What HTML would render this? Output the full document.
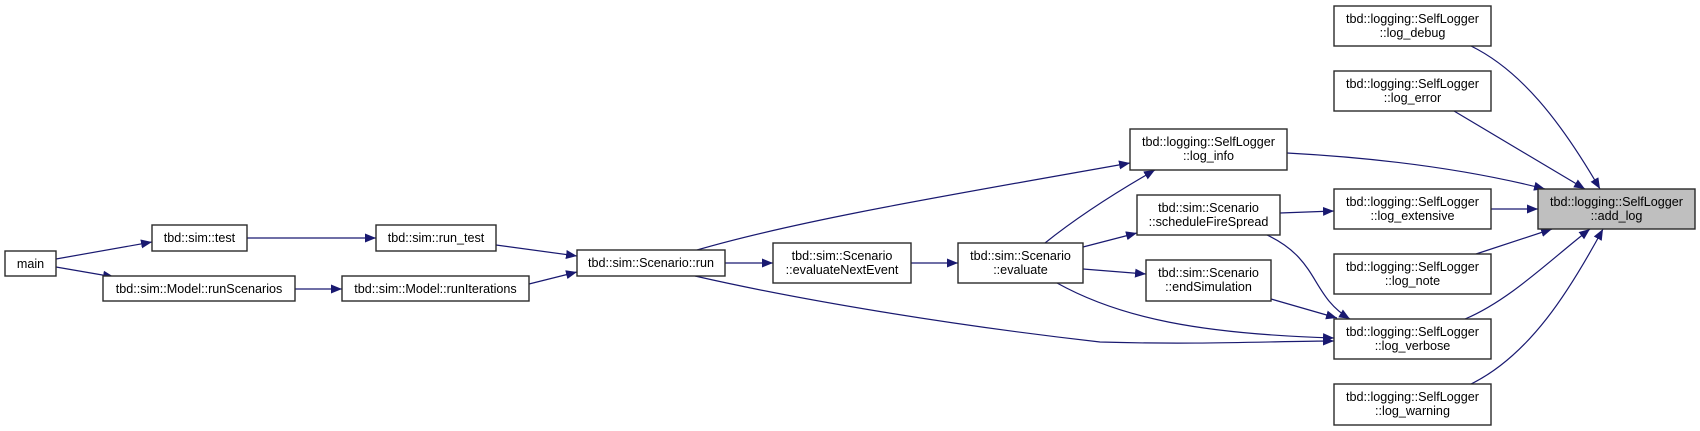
<!DOCTYPE html>
<html><head><meta charset="utf-8"><style>
html,body{margin:0;padding:0;background:#fff;}
svg{display:block;}
text{font-family:"Liberation Sans",Arial,sans-serif;font-size:12.6px;fill:#000;}
</style></head><body>
<svg width="1700" height="431" viewBox="0 0 1700 431" xmlns="http://www.w3.org/2000/svg">
<defs>
<marker id="a" markerUnits="userSpaceOnUse" markerWidth="12" markerHeight="10" refX="11" refY="5" orient="auto">
<polygon points="0,0.5 11,5 0,9.5" fill="#191970"/>
</marker>
</defs>
<g fill="none" stroke="#191970" stroke-width="1.2" marker-end="url(#a)">
<path d="M56,259 L152,242"/>
<path d="M56,267 L114,277"/>
<path d="M247,238 L376,238"/>
<path d="M295,289 L342,289"/>
<path d="M496,245 L577,256"/>
<path d="M529,284 L577,272"/>
<path d="M725,263 L773,263"/>
<path d="M911,263 L958,263"/>
<path d="M697,250 C800,220 950,195 1130,163"/>
<path d="M695,276 C800,300 950,325 1100,342 C1200,345 1280,341 1334,341"/>
<path d="M1045,243 C1080,215 1120,190 1155,170"/>
<path d="M1083,247 L1137,233"/>
<path d="M1083,269 L1146,274"/>
<path d="M1057,283 C1120,318 1200,334 1334,338"/>
<path d="M1280,213 L1334,211"/>
<path d="M1267,235 C1320,260 1310,295 1350,319"/>
<path d="M1271,299 L1337,318"/>
<path d="M1287,153 C1380,158 1470,170 1545,189"/>
<path d="M1471,46 C1520,70 1560,120 1600,189"/>
<path d="M1454,111 L1585,189"/>
<path d="M1491,209 L1538,209"/>
<path d="M1476,254 L1552,229"/>
<path d="M1465,319 C1510,300 1550,260 1590,229"/>
<path d="M1471,384 C1530,355 1570,290 1603,229"/>
</g>
<g stroke="#2a2a2a" stroke-width="1.4" fill="#fff">
<rect x="5" y="251" width="51" height="25"/>
<rect x="152" y="225" width="95" height="26"/>
<rect x="103" y="276" width="192" height="25"/>
<rect x="376" y="225" width="120" height="26"/>
<rect x="342" y="276" width="187" height="25"/>
<rect x="577" y="250" width="148" height="26"/>
<rect x="773" y="243" width="138" height="40"/>
<rect x="958" y="243" width="125" height="40"/>
<rect x="1130" y="129" width="157" height="41"/>
<rect x="1137" y="195" width="143" height="40"/>
<rect x="1146" y="260" width="125" height="41"/>
<rect x="1334" y="6" width="157" height="40"/>
<rect x="1334" y="71" width="157" height="40"/>
<rect x="1334" y="189" width="157" height="40"/>
<rect x="1334" y="254" width="157" height="40"/>
<rect x="1334" y="319" width="157" height="40"/>
<rect x="1334" y="384" width="157" height="41"/>
<rect x="1538" y="189" width="157" height="40" fill="#bfbfbf"/>
</g>
<g text-anchor="middle">
<text x="30.5" y="268">main</text>
<text x="199.5" y="242">tbd::sim::test</text>
<text x="199" y="293">tbd::sim::Model::runScenarios</text>
<text x="436" y="242">tbd::sim::run_test</text>
<text x="435.5" y="293">tbd::sim::Model::runIterations</text>
<text x="651" y="267">tbd::sim::Scenario::run</text>
<text x="842" y="260">tbd::sim::Scenario</text>
<text x="842" y="274">::evaluateNextEvent</text>
<text x="1020.5" y="260">tbd::sim::Scenario</text>
<text x="1020.5" y="274">::evaluate</text>
<text x="1208.5" y="146">tbd::logging::SelfLogger</text>
<text x="1208.5" y="160">::log_info</text>
<text x="1208.5" y="212">tbd::sim::Scenario</text>
<text x="1208.5" y="226">::scheduleFireSpread</text>
<text x="1208.5" y="277">tbd::sim::Scenario</text>
<text x="1208.5" y="291">::endSimulation</text>
<text x="1412.5" y="23">tbd::logging::SelfLogger</text>
<text x="1412.5" y="37">::log_debug</text>
<text x="1412.5" y="88">tbd::logging::SelfLogger</text>
<text x="1412.5" y="102">::log_error</text>
<text x="1412.5" y="206">tbd::logging::SelfLogger</text>
<text x="1412.5" y="220">::log_extensive</text>
<text x="1412.5" y="271">tbd::logging::SelfLogger</text>
<text x="1412.5" y="285">::log_note</text>
<text x="1412.5" y="336">tbd::logging::SelfLogger</text>
<text x="1412.5" y="350">::log_verbose</text>
<text x="1412.5" y="401">tbd::logging::SelfLogger</text>
<text x="1412.5" y="415">::log_warning</text>
<text x="1616.5" y="206">tbd::logging::SelfLogger</text>
<text x="1616.5" y="220">::add_log</text>
</g>
</svg>
</body></html>
